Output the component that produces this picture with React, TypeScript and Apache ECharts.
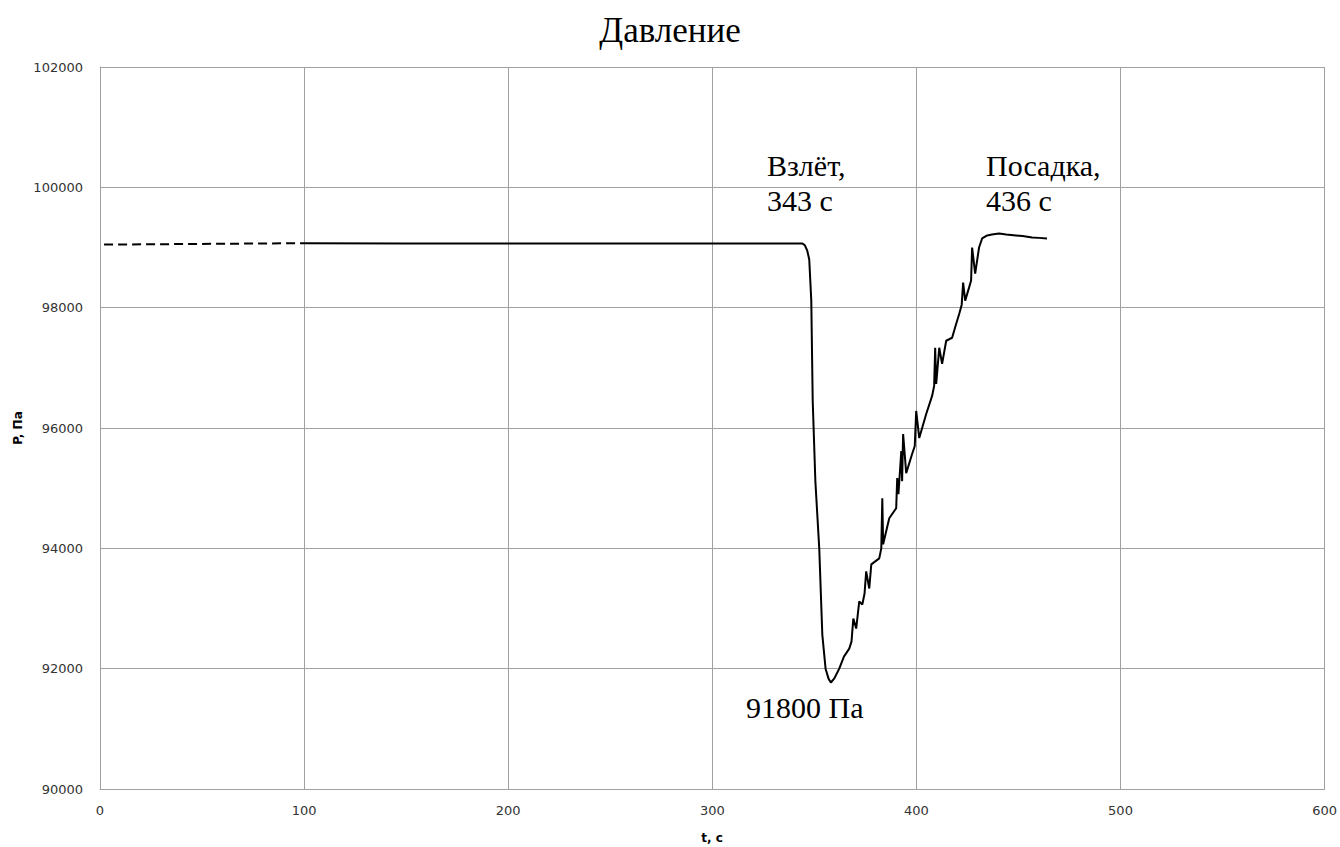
import React, { useEffect, useRef } from "react";
import * as echarts from "echarts";

const xTicks = [0, 100, 200, 300, 400, 500, 600];
const yTicks = [90000, 92000, 94000, 96000, 98000, 100000, 102000];

// dashed extrapolated segment before recording
const dashedT = [2, 100];
const dashedP = [99048, 99072];

// measured pressure
const measT = [
  100, 150, 200, 250, 300, 344, 345.3, 346.5, 347.5, 348.5, 349.2, 350.5, 352.4,
  353.9, 355.5, 357, 358.1, 359.7, 362.2, 364.5, 367.1, 368.2, 369.1,
  370.5, 372, 373.5, 374.6, 375.4, 376.9, 377.9, 381.8, 382.8, 383.3, 383.7, 386.7,
  390.1, 390.6, 391.2, 392.6, 393, 393.5, 395, 397.9, 399.2, 399.9, 401.4, 404.8,
  407.7, 408.7, 409.2, 409.7, 411.2, 412.6, 414.6, 417.5, 419.5, 421, 422.2, 422.9,
  423.9, 425.8, 426.8, 427.3, 428.8, 430.7, 432.2, 434.7, 437, 440.5, 444, 448.8,
  452, 456.7, 460, 464,
];
const measP = [
  99072, 99068, 99066, 99066, 99066, 99067, 99040, 98950, 98800, 98117, 96450, 95117,
  94000, 92567, 92000, 91830, 91770, 91833, 92000, 92200, 92333, 92450, 92833,
  92667, 93117, 93067, 93250, 93617, 93333, 93733, 93833, 94000, 94833,
  94067, 94500, 94667, 95167, 94900, 95617, 95117, 95900, 95250, 95567, 95700, 96283,
  95833, 96233, 96533, 96700, 97333, 96733, 97333, 97067, 97450, 97500, 97733, 97900,
  98050, 98417, 98117, 98333, 98450, 99000, 98567, 99000, 99150, 99200, 99215, 99233,
  99215, 99200, 99190, 99167, 99160, 99150,
];

const App: React.FC = () => {
  const ref = useRef<HTMLDivElement>(null);

  useEffect(() => {
    if (!ref.current) return;
    const chart = echarts.init(ref.current, undefined, { renderer: "svg" });
    const serif = "Liberation Serif";
    const sans = "DejaVu Sans";
    chart.setOption({
      animation: false,
      backgroundColor: "#ffffff",
      title: {
        text: "Давление",
        left: "center",
        top: 8,
        textStyle: { fontFamily: serif, fontSize: 35, fontWeight: "normal", color: "#000" },
      },
      grid: { left: 100, right: 15, top: 67, bottom: 58, containLabel: false },
      xAxis: {
        type: "value",
        min: xTicks[0],
        max: xTicks[xTicks.length - 1],
        interval: 100,
        axisLine: { show: true, lineStyle: { color: "#a0a0a0", width: 1 } },
        axisTick: { show: false },
        axisLabel: {
          fontFamily: sans,
          fontSize: 13,
          color: "#333",
          margin: 15,
          formatter: (v: number) => String(v),
        },
        splitLine: { show: true, lineStyle: { color: "#a0a0a0", width: 1 } },
      },
      yAxis: {
        type: "value",
        min: yTicks[0],
        max: yTicks[yTicks.length - 1],
        interval: 2000,
        axisLine: { show: true, lineStyle: { color: "#a0a0a0", width: 1 } },
        axisTick: { show: false },
        axisLabel: {
          fontFamily: sans,
          fontSize: 13,
          color: "#333",
          margin: 17,
          formatter: (v: number) => String(v),
        },
        splitLine: { show: true, lineStyle: { color: "#a0a0a0", width: 1 } },
      },
      series: [
        {
          type: "line",
          data: dashedT.map((t, i) => [t, dashedP[i]]),
          showSymbol: false,
          lineStyle: { color: "#000", width: 2, type: [9, 5] },
          silent: true,
        },
        {
          type: "line",
          data: measT.map((t, i) => [t, measP[i]]),
          showSymbol: false,
          lineStyle: { color: "#000", width: 2 },
          silent: true,
        },
      ],
      graphic: [
        {
          type: "text",
          left: 767,
          top: 148,
          style: {
            text: "Взлёт,\n343 с",
            fontFamily: serif,
            fontSize: 30,
            fill: "#000",
            lineHeight: 35,
          },
        },
        {
          type: "text",
          left: 986,
          top: 148,
          style: {
            text: "Посадка,\n436 с",
            fontFamily: serif,
            fontSize: 30,
            fill: "#000",
            lineHeight: 35,
          },
        },
        {
          type: "text",
          left: 746,
          top: 692,
          style: { text: "91800 Па", fontFamily: serif, fontSize: 30, fill: "#000" },
        },
        {
          type: "text",
          x: 712,
          y: 838,
          style: {
            text: "t, с",
            fontFamily: sans,
            fontWeight: "bold",
            fontSize: 12,
            fill: "#000",
            align: "center",
            verticalAlign: "middle",
          },
        },
        {
          type: "text",
          x: 18,
          y: 428,
          rotation: Math.PI / 2,
          style: {
            text: "P, Па",
            fontFamily: sans,
            fontWeight: "bold",
            fontSize: 12,
            fill: "#000",
            align: "center",
            verticalAlign: "middle",
          },
        },
      ],
    });
    return () => chart.dispose();
  }, []);

  return (
    <div
      ref={ref}
      style={{ position: "absolute", left: 0, top: 0, width: 1340, height: 847 }}
    />
  );
};

export default App;
